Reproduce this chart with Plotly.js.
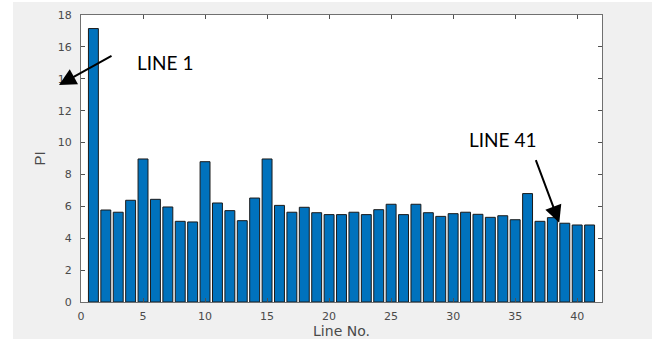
<!DOCTYPE html>
<html>
<head>
<meta charset="utf-8">
<script src="https://cdn.plot.ly/plotly-3.0.1.min.js"></script>
<style>
  html, body { margin: 0; padding: 0; background: #ffffff; width: 652px; height: 339px; overflow: hidden; }
  #chart { position: absolute; left: 13px; top: 2px; width: 639px; height: 337px; }
</style>
</head>
<body>
<div id="chart"></div>
<script>
// Data
const lineNo = [1,2,3,4,5,6,7,8,9,10,11,12,13,14,15,16,17,18,19,20,21,22,23,24,25,26,27,28,29,30,31,32,33,34,35,36,37,38,39,40,41];
const piValues = [17.15,5.77,5.63,6.38,8.97,6.44,5.96,5.06,5.02,8.80,6.21,5.73,5.10,6.52,8.97,6.06,5.63,5.94,5.60,5.48,5.48,5.63,5.48,5.79,6.13,5.48,6.13,5.60,5.37,5.54,5.63,5.50,5.31,5.41,5.16,6.80,5.06,5.29,4.94,4.83,4.83];
const xTicks = [0,5,10,15,20,25,30,35,40];
const yTicks = [0,2,4,6,8,10,12,14,16,18];
const xTitle = 'Line No.';
const yTitle = 'PI';
const noteFirst = 'LINE 1';
const noteLast = 'LINE 41';

const trace = {
  type: 'bar',
  x: lineNo,
  y: piValues,
  width: 0.8,
  marker: { color: '#0072BD', line: { color: '#1a1a1a', width: 1 } },
  hoverinfo: 'skip'
};

const axisCommon = {
  showgrid: false,
  zeroline: false,
  showline: true,
  linecolor: '#707070',
  linewidth: 1,
  mirror: 'ticks',
  ticks: 'inside',
  ticklen: 4,
  tickcolor: '#505050',
  tickwidth: 1,
  tickfont: { family: 'DejaVu Sans, sans-serif', size: 11, color: '#4a4a4a' }
};

const layout = {
  width: 639,
  height: 337,
  margin: { l: 68, r: 50, t: 13, b: 37, pad: 0 },
  paper_bgcolor: '#f0f0f0',
  plot_bgcolor: '#ffffff',
  showlegend: false,
  bargap: 0.2,
  xaxis: Object.assign({}, axisCommon, {
    range: [0, 42],
    tickmode: 'array',
    tickvals: xTicks,
    ticktext: xTicks.map(String),
    ticklabelstandoff: 4,
    title: { text: xTitle, font: { family: 'DejaVu Sans, sans-serif', size: 14, color: '#4a4a4a' }, standoff: 2 }
  }),
  yaxis: Object.assign({}, axisCommon, {
    range: [0, 18],
    tickmode: 'array',
    tickvals: yTicks,
    ticktext: yTicks.map(String),
    ticklabelstandoff: 6,
    title: { text: yTitle, font: { family: 'Liberation Sans, Arial, sans-serif', size: 15, color: '#4a4a4a' }, standoff: 8 }
  }),
  annotations: [
    { xref: 'paper', yref: 'paper', x: 0.1607, y: 0.8355, text: noteFirst, showarrow: false,
      xanchor: 'center', yanchor: 'middle', font: { family: 'Lato, sans-serif', size: 19, color: '#000000' } },
    { xref: 'paper', yref: 'paper', x: 0.809, y: 0.5655, text: noteLast, showarrow: false,
      xanchor: 'center', yanchor: 'middle', font: { family: 'Lato, sans-serif', size: 19, color: '#000000' } },
    { xref: 'paper', yref: 'paper', x: -0.0422, y: 0.756, text: '', showarrow: true,
      ax: 54, ay: -30, arrowhead: 2, arrowsize: 1.7, arrowwidth: 2, arrowcolor: '#000000', standoff: 0 },
    { xref: 'paper', yref: 'paper', x: 0.918, y: 0.2763, text: '', showarrow: true,
      ax: -24, ay: -64, arrowhead: 2, arrowsize: 1.7, arrowwidth: 2, arrowcolor: '#000000', standoff: 0 }
  ]
};

Plotly.newPlot('chart', [trace], layout, { staticPlot: true, displayModeBar: false });
</script>
</body>
</html>
